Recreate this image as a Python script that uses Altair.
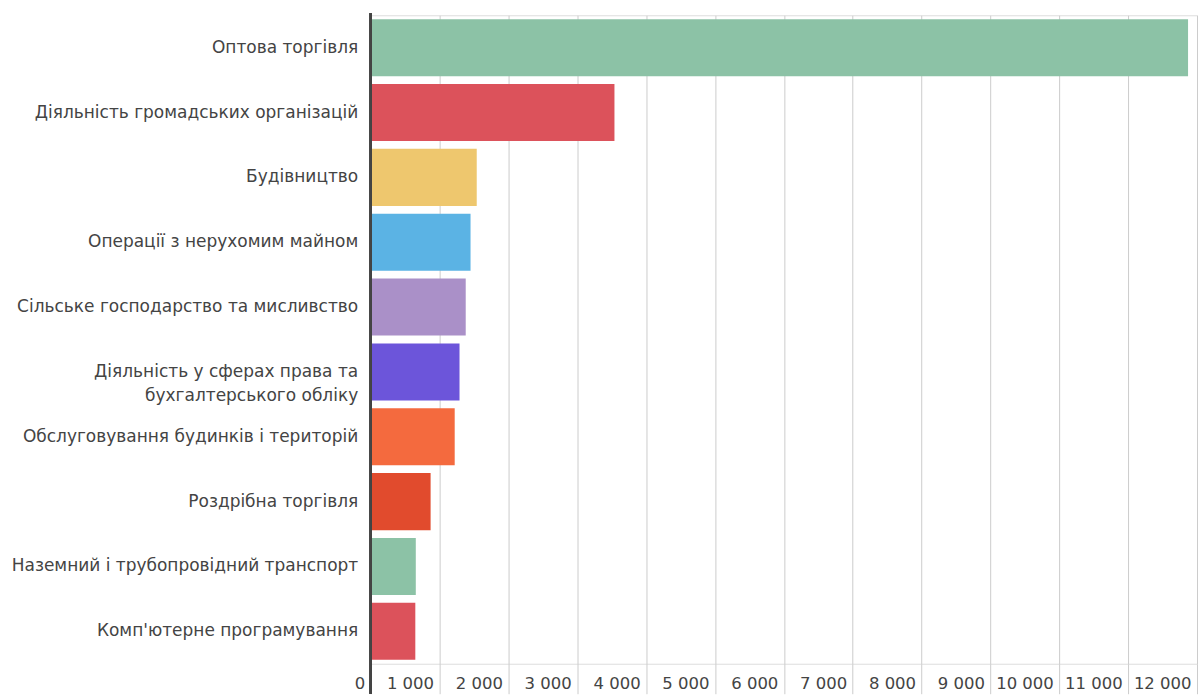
import altair as alt
import pandas as pd

categories = [
    "Оптова торгівля",
    "Діяльність громадських організацій",
    "Будівництво",
    "Операції з нерухомим майном",
    "Сільське господарство та мисливство",
    "Діяльність у сферах права та|бухгалтерського обліку",
    "Обслуговування будинків і територій",
    "Роздрібна торгівля",
    "Наземний і трубопровідний транспорт",
    "Комп'ютерне програмування",
]
values = [11870, 3540, 1540, 1450, 1380, 1290, 1220, 870, 655, 648]
colors = ["#8cc2a6", "#dc525b", "#eec76e", "#5bb3e4", "#aa90c8",
          "#6c55da", "#f46a3e", "#e14b2d", "#8cc2a6", "#dc525b"]
tick_values = list(range(0, 12001, 1000))

df = pd.DataFrame({"cat": categories, "val": values, "color": colors})

W, H = 827, 649
FONT = "DejaVu Sans"

bars = alt.Chart(df).mark_bar(cornerRadius=0).encode(
    y=alt.Y("cat:N", sort=categories, title=None,
            scale=alt.Scale(paddingInner=0.12, paddingOuter=0.06),
            axis=alt.Axis(labelExpr="split(datum.label, '|')", labelFontSize=17,
                          labelFont=FONT, labelColor="#444444", labelPadding=13,
                          labelLimit=400, ticks=False, domain=False,
                          minExtent=366, maxExtent=366, labelLineHeight=24)),
    x=alt.X("val:Q", title=None,
            scale=alt.Scale(domain=[0, 12000], nice=False),
            axis=alt.Axis(values=tick_values, labelExpr="replace(format(datum.value, ',d'), ',', ' ')",
                          labelFontSize=16.5, labelFont=FONT, labelColor="#444444",
                          labelAlign="right", labelOffset=-6, labelFlush=False,
                          tickSize=30, tickColor="#cccccc", labelPadding=-18,
                          grid=True, gridColor="#cccccc", domain=False)),
    color=alt.Color("color:N", scale=None, legend=None),
)

axis_line = alt.Chart(df).mark_rule(color="#444444", strokeWidth=2).encode(
    x=alt.value(0), y=alt.value(-2), y2=alt.value(H + 30)
)

chart = alt.layer(bars, axis_line).properties(
    width=W, height=H,
    padding={"left": 5, "top": 12, "right": 5, "bottom": 5},
).configure_view(stroke=None).configure(background="white")

chart.save("out.html", embed_options={"renderer": "svg", "actions": False})
